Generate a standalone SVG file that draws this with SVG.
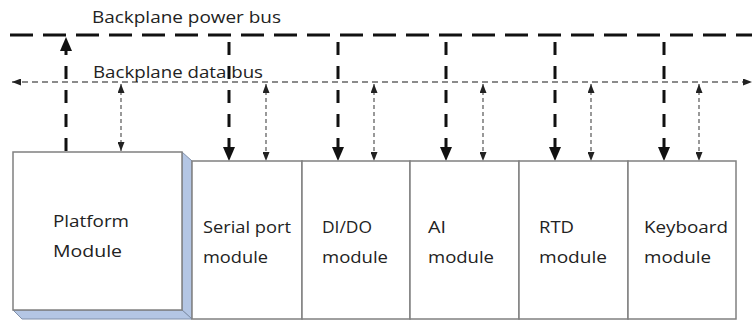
<svg xmlns="http://www.w3.org/2000/svg" width="752" height="321" viewBox="0 0 752 321">
<style>
text{font-family:"Open Sans","Noto Sans","DejaVu Sans",sans-serif;font-size:16px;fill:#222}
.box{fill:#fff;stroke:#808080;stroke-width:1.5}
.face{fill:#b4c6e4;stroke:#8090aa;stroke-width:1}
.pbus{stroke:#111;stroke-width:3;fill:none;stroke-dasharray:23 10}
.pwr{stroke:#111;stroke-width:3;fill:none;stroke-dasharray:13 11}
.dbus{stroke:#666;stroke-width:1.3;fill:none;stroke-dasharray:6 4}
.dat{stroke:#555;stroke-width:1.2;fill:none;stroke-dasharray:4 3}
</style>
<defs>
<marker id="big" markerUnits="userSpaceOnUse" markerWidth="14" markerHeight="12" refX="14" refY="6" orient="auto-start-reverse" viewBox="0 0 14 12"><path d="M0,0 L14,6 L0,12 z" fill="#111"/></marker>
<marker id="sm" markerUnits="userSpaceOnUse" markerWidth="9" markerHeight="7" refX="9" refY="3.5" orient="auto-start-reverse" viewBox="0 0 9 7"><path d="M0,0 L9,3.5 L0,7 z" fill="#222"/></marker>
</defs>
<g id="connectors">
<line class="pbus" x1="10" y1="35" x2="752" y2="35"/>
<line class="dbus" x1="12" y1="82" x2="752" y2="82" marker-start="url(#sm)" marker-end="url(#sm)"/>
<line class="pwr" x1="66" y1="151" x2="66" y2="37" marker-end="url(#big)"/>
<line class="pwr" x1="229" y1="42" x2="229" y2="161" marker-end="url(#big)"/>
<line class="pwr" x1="338" y1="42" x2="338" y2="161" marker-end="url(#big)"/>
<line class="pwr" x1="446" y1="42" x2="446" y2="161" marker-end="url(#big)"/>
<line class="pwr" x1="555" y1="42" x2="555" y2="161" marker-end="url(#big)"/>
<line class="pwr" x1="664" y1="42" x2="664" y2="161" marker-end="url(#big)"/>
<line class="dat" x1="121" y1="84" x2="121" y2="151" marker-start="url(#sm)" marker-end="url(#sm)"/>
<line class="dat" x1="266" y1="84" x2="266" y2="161" marker-start="url(#sm)" marker-end="url(#sm)"/>
<line class="dat" x1="374" y1="84" x2="374" y2="161" marker-start="url(#sm)" marker-end="url(#sm)"/>
<line class="dat" x1="483" y1="84" x2="483" y2="161" marker-start="url(#sm)" marker-end="url(#sm)"/>
<line class="dat" x1="591" y1="84" x2="591" y2="161" marker-start="url(#sm)" marker-end="url(#sm)"/>
<line class="dat" x1="699" y1="84" x2="699" y2="161" marker-start="url(#sm)" marker-end="url(#sm)"/>
</g>
<g id="labels">
<text x="92" y="23" textLength="189" lengthAdjust="spacingAndGlyphs">Backplane power bus</text>
<text x="93" y="78" textLength="170" lengthAdjust="spacingAndGlyphs">Backplane data bus</text>
</g>
<g id="platform">
<polygon class="face" points="182,152 192,161 192,319 182,310"/>
<polygon class="face" points="13,310 182,310 192,319 22,319"/>
<rect class="box" x="13" y="152" width="169" height="158"/>
<text x="53" y="227" textLength="76" lengthAdjust="spacingAndGlyphs">Platform</text>
<text x="53" y="257" textLength="69" lengthAdjust="spacingAndGlyphs">Module</text>
</g>
<g id="serial">
<rect class="box" x="192" y="161" width="110" height="158"/>
<text x="203" y="233" textLength="88" lengthAdjust="spacingAndGlyphs">Serial port</text>
<text x="203" y="263" textLength="65" lengthAdjust="spacingAndGlyphs">module</text>
</g>
<g id="dido">
<rect class="box" x="302" y="161" width="108" height="158"/>
<text x="322" y="233" textLength="50" lengthAdjust="spacingAndGlyphs">DI/DO</text>
<text x="322" y="263" textLength="66" lengthAdjust="spacingAndGlyphs">module</text>
</g>
<g id="ai">
<rect class="box" x="410" y="161" width="109" height="158"/>
<text x="428" y="233" textLength="18" lengthAdjust="spacingAndGlyphs">AI</text>
<text x="428" y="263" textLength="66" lengthAdjust="spacingAndGlyphs">module</text>
</g>
<g id="rtd">
<rect class="box" x="519" y="161" width="109" height="158"/>
<text x="539" y="233" textLength="35" lengthAdjust="spacingAndGlyphs">RTD</text>
<text x="539" y="263" textLength="68" lengthAdjust="spacingAndGlyphs">module</text>
</g>
<g id="keyboard">
<rect class="box" x="628" y="161" width="108" height="158"/>
<text x="644" y="233" textLength="84" lengthAdjust="spacingAndGlyphs">Keyboard</text>
<text x="644" y="263" textLength="67" lengthAdjust="spacingAndGlyphs">module</text>
</g>
</svg>
